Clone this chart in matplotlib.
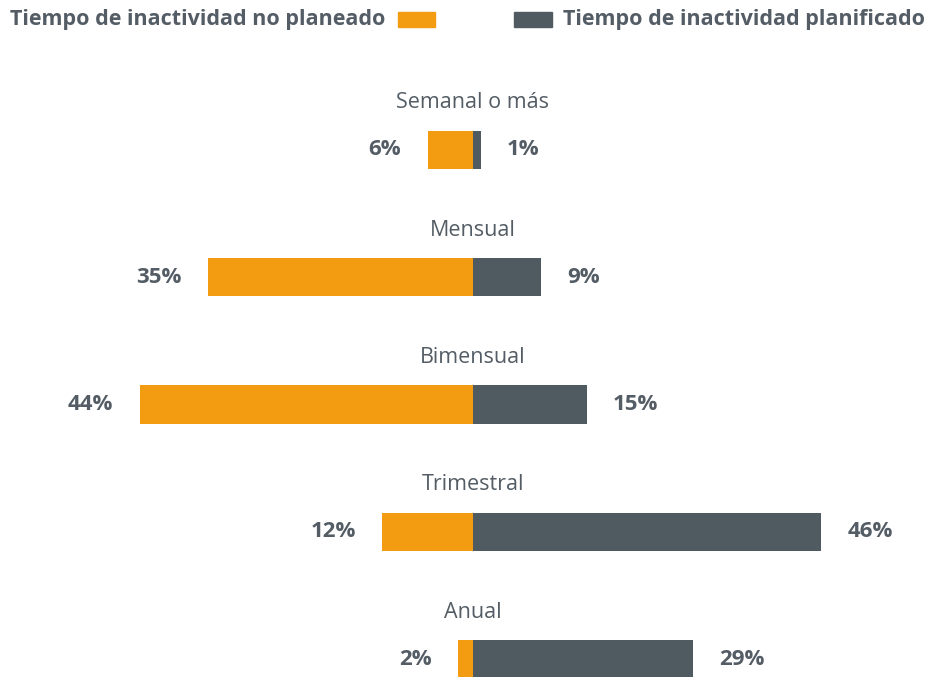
import matplotlib.pyplot as plt
from matplotlib.patches import Rectangle

# datos
categorias = ['Semanal o más', 'Mensual', 'Bimensual', 'Trimestral', 'Anual']
no_planeado = [6, 35, 44, 12, 2]
planificado = [1, 9, 15, 46, 29]

naranja = '#F39C12'
gris = '#4F5A61'
texto = '#545D65'

plt.rcParams['font.family'] = ['Open Sans', 'DejaVu Sans']

fig = plt.figure(figsize=(9.25, 6.77), dpi=100)
ax = fig.add_axes([0, 0, 1, 1])

pos = list(range(len(categorias)))
alto = 0.30
ax.barh(pos, [-v for v in no_planeado], height=alto, color=naranja)
ax.barh(pos, planificado, height=alto, color=gris)

for i, cat in enumerate(categorias):
    ax.text(0, i - 0.37, cat, ha='center', va='center', fontsize=15.5, color=texto)
    ax.text(-no_planeado[i] - 3.5, i, f'{no_planeado[i]}%', ha='right', va='center',
            fontsize=16, fontweight='bold', color=texto)
    ax.text(planificado[i] + 3.5, i, f'{planificado[i]}%', ha='left', va='center',
            fontsize=16, fontweight='bold', color=texto)

ax.set_xlim(-62.48, 59.71)
ax.set_ylim(4.14, -1.178)
ax.axis('off')

# leyenda
fig.text(10 / 925, 1 - 19 / 677, 'Tiempo de inactividad no planeado', ha='left', va='center',
         fontsize=15.5, fontweight='bold', color=texto)
fig.patches.append(Rectangle((398 / 925, 1 - 27 / 677), 37 / 925, 15 / 677,
                             transform=fig.transFigure, color=naranja))
fig.patches.append(Rectangle((514 / 925, 1 - 27 / 677), 38 / 925, 15 / 677,
                             transform=fig.transFigure, color=gris))
fig.text(563 / 925, 1 - 19 / 677, 'Tiempo de inactividad planificado', ha='left', va='center',
         fontsize=15.5, fontweight='bold', color=texto)

fig.savefig('out.png', dpi=100)
